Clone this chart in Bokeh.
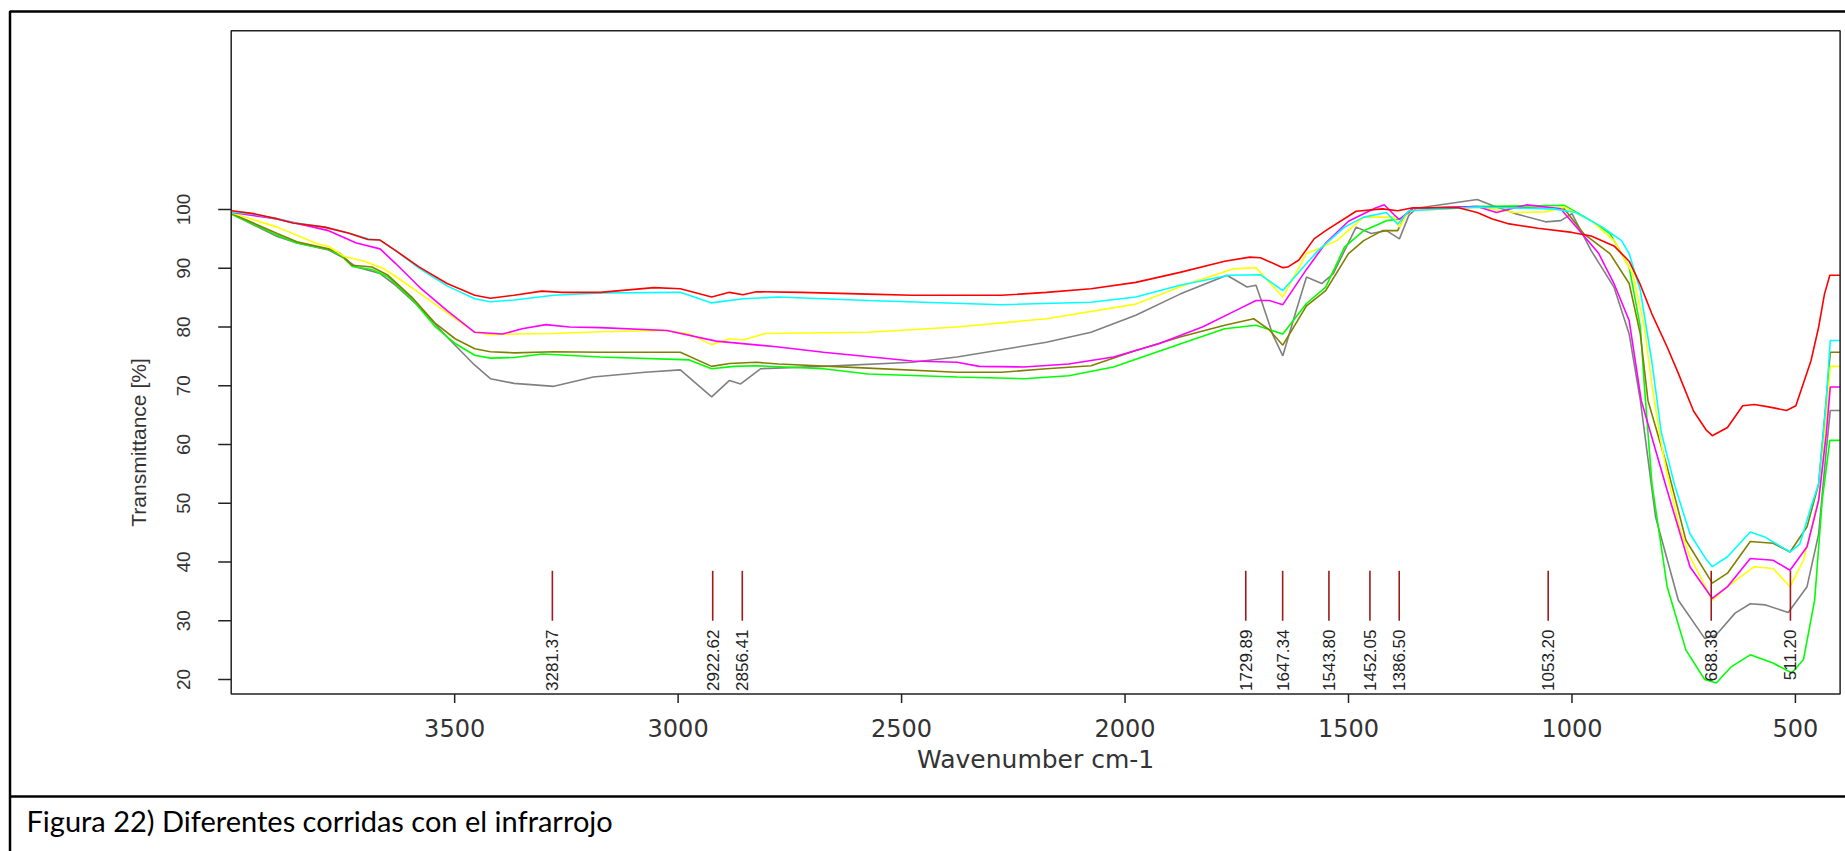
from math import pi
from bokeh.plotting import figure
from bokeh.models import Range1d, ColumnDataSource
from bokeh.core.properties import value
from bokeh.embed import file_html
from bokeh.resources import INLINE

# ---------------- data ----------------
x_ticks = [3500, 3000, 2500, 2000, 1500, 1000, 500]
y_ticks = [20, 30, 40, 50, 60, 70, 80, 90, 100]
x_span = [4000, 400]          # wavenumber range of the plot box
y_span = [17.53, 130.42]      # transmittance range of the plot box

red_wn = [3998, 3950, 3897, 3862, 3791, 3738, 3694, 3667, 3632, 3579, 3517, 3455, 3420, 3367, 3305, 3260, 3174, 3054, 2995, 2925, 2885, 2855, 2825, 2725, 2575, 2476, 2276, 2176, 2076, 1976, 1877, 1777, 1721, 1697, 1647, 1636, 1611, 1577, 1551, 1483, 1424, 1390, 1356, 1254, 1212, 1178, 1144, 1076, 1000, 957, 906, 872, 847, 821, 787, 762, 728, 700, 686, 652, 618, 592, 560, 520, 499, 465, 448, 435, 423, 400]
red_t = [99.8, 99.3, 98.4, 97.7, 97.0, 96.0, 94.9, 94.8, 93.0, 90.2, 87.4, 85.4, 84.9, 85.4, 86.1, 85.9, 85.9, 86.7, 86.5, 85.1, 85.9, 85.5, 86.0, 85.9, 85.6, 85.4, 85.4, 85.9, 86.5, 87.6, 89.3, 91.2, 91.9, 91.8, 90.1, 90.2, 91.4, 95.0, 96.4, 99.7, 100.1, 99.8, 100.3, 100.3, 99.5, 98.4, 97.6, 96.8, 96.1, 95.5, 93.8, 91.2, 87.2, 82.2, 76.6, 72.1, 65.7, 62.5, 61.5, 62.9, 66.6, 66.8, 66.4, 65.8, 66.6, 74.3, 80.0, 85.6, 88.8, 88.8]

cyan_wn = [3998, 3950, 3897, 3862, 3791, 3738, 3694, 3667, 3632, 3579, 3517, 3455, 3420, 3367, 3278, 3174, 2995, 2925, 2855, 2775, 2575, 2276, 2076, 1976, 1877, 1767, 1697, 1647, 1594, 1568, 1509, 1466, 1415, 1390, 1365, 1212, 1042, 991, 932, 889, 872, 847, 821, 800, 770, 736, 700, 686, 652, 601, 567, 512, 490, 465, 448, 431, 422, 400]
cyan_t = [99.6, 99.2, 98.4, 97.8, 97.0, 96.0, 95.0, 94.8, 93.0, 90.0, 87.0, 84.8, 84.3, 84.6, 85.4, 85.8, 85.9, 84.1, 84.8, 85.1, 84.5, 83.8, 84.2, 85.1, 87.1, 88.8, 88.9, 86.2, 90.8, 93.0, 97.0, 98.7, 99.5, 97.5, 99.8, 100.4, 100.1, 99.5, 97.0, 94.7, 92.5, 86.2, 74.0, 62.0, 53.0, 44.8, 40.5, 39.2, 40.9, 45.1, 44.2, 41.7, 43.1, 49.4, 53.3, 67.5, 77.7, 77.7]

yellow_wn = [3998, 3897, 3809, 3782, 3747, 3702, 3658, 3632, 3579, 3517, 3455, 3420, 3367, 3278, 3174, 3025, 2975, 2925, 2885, 2855, 2805, 2575, 2376, 2176, 1976, 1857, 1757, 1707, 1647, 1594, 1568, 1526, 1466, 1398, 1386, 1365, 1212, 1127, 1059, 1017, 957, 906, 864, 838, 821, 800, 787, 760, 736, 686, 652, 592, 550, 512, 482, 448, 431, 422, 400]
yellow_t = [99.4, 97.0, 94.2, 93.7, 92.0, 91.2, 89.9, 88.6, 85.8, 82.4, 79.1, 78.7, 78.8, 78.9, 79.2, 79.4, 78.8, 77.0, 78.0, 77.8, 78.9, 79.1, 80.0, 81.4, 83.9, 87.4, 89.9, 90.1, 85.1, 92.5, 93.3, 94.7, 98.7, 98.7, 97.0, 99.8, 100.4, 99.5, 99.6, 100.4, 98.1, 94.7, 89.1, 80.0, 70.0, 60.0, 55.0, 46.0, 40.9, 33.5, 35.8, 39.2, 38.9, 35.8, 40.3, 50.5, 64.6, 73.3, 73.3]

magenta_wn = [3998, 3897, 3782, 3720, 3667, 3632, 3579, 3517, 3455, 3393, 3349, 3296, 3243, 3174, 3025, 2915, 2775, 2675, 2476, 2376, 2326, 2226, 2126, 2026, 1926, 1827, 1747, 1707, 1677, 1647, 1594, 1551, 1500, 1441, 1420, 1398, 1386, 1356, 1212, 1169, 1101, 1025, 983, 940, 906, 872, 845, 787, 736, 686, 652, 601, 550, 512, 474, 448, 431, 422, 400]
magenta_t = [99.5, 98.4, 96.4, 94.3, 93.3, 90.8, 86.8, 82.8, 79.1, 78.8, 79.7, 80.4, 80.0, 79.9, 79.4, 77.6, 76.6, 75.7, 74.2, 74.0, 73.3, 73.2, 73.7, 74.9, 77.1, 80.0, 83.0, 84.5, 84.5, 83.8, 89.8, 94.3, 98.0, 100.2, 100.8, 99.1, 98.3, 100.2, 100.5, 99.5, 100.8, 100.1, 96.4, 92.5, 87.4, 81.1, 67.5, 52.2, 39.2, 33.8, 35.8, 40.6, 40.3, 38.6, 42.6, 50.5, 61.8, 69.8, 69.8]

olive_wn = [3998, 3897, 3853, 3782, 3756, 3729, 3685, 3649, 3596, 3543, 3499, 3455, 3420, 3367, 3278, 3174, 2995, 2925, 2885, 2825, 2775, 2575, 2376, 2276, 2176, 2076, 1976, 1877, 1777, 1712, 1677, 1647, 1594, 1551, 1500, 1466, 1424, 1390, 1373, 1356, 1212, 1017, 974, 915, 872, 847, 830, 787, 745, 686, 652, 601, 550, 512, 474, 448, 431, 422, 400]
olive_t = [99.3, 95.9, 94.5, 93.3, 92.5, 90.5, 90.2, 88.8, 85.1, 80.6, 78.0, 76.3, 75.8, 75.6, 75.8, 75.7, 75.7, 73.3, 73.8, 74.0, 73.7, 73.0, 72.3, 72.3, 72.9, 73.4, 76.0, 78.3, 80.3, 81.4, 79.5, 76.9, 83.6, 86.2, 92.5, 94.7, 96.4, 96.4, 99.0, 100.2, 100.5, 100.1, 95.9, 92.5, 87.4, 78.8, 67.5, 56.2, 43.7, 36.4, 38.1, 43.5, 43.2, 41.7, 46.0, 53.3, 67.5, 75.7, 75.7]

green_wn = [3998, 3897, 3853, 3782, 3756, 3729, 3685, 3649, 3596, 3543, 3499, 3455, 3420, 3367, 3304, 3174, 2975, 2925, 2875, 2825, 2675, 2575, 2376, 2226, 2126, 2026, 1877, 1777, 1707, 1647, 1594, 1551, 1509, 1466, 1415, 1381, 1356, 1212, 1017, 957, 915, 872, 847, 838, 821, 787, 745, 703, 677, 643, 601, 550, 508, 482, 457, 440, 423, 400]
green_t = [99.2, 95.6, 94.3, 93.2, 92.3, 90.3, 89.8, 88.5, 84.8, 80.0, 77.2, 75.2, 74.7, 74.8, 75.4, 74.9, 74.4, 72.9, 73.3, 73.4, 72.9, 72.0, 71.5, 71.2, 71.7, 73.2, 77.1, 79.7, 80.3, 78.8, 84.0, 86.8, 93.6, 96.4, 98.1, 98.4, 100.2, 100.5, 100.7, 98.1, 95.9, 90.2, 80.0, 70.0, 53.3, 35.8, 25.0, 20.0, 19.4, 22.2, 24.2, 22.8, 21.1, 23.4, 33.5, 50.5, 60.7, 60.7]

gray_wn = [3998, 3897, 3853, 3782, 3747, 3720, 3667, 3632, 3579, 3517, 3455, 3420, 3367, 3278, 3190, 3074, 2995, 2925, 2885, 2860, 2815, 2675, 2476, 2376, 2176, 2076, 1976, 1877, 1772, 1727, 1707, 1695, 1670, 1647, 1619, 1594, 1560, 1534, 1483, 1449, 1415, 1386, 1365, 1348, 1212, 1178, 1127, 1059, 1025, 1000, 957, 906, 872, 847, 813, 762, 703, 677, 635, 601, 567, 516, 474, 448, 431, 422, 400]
gray_t = [99.2, 95.4, 94.3, 93.1, 91.7, 90.2, 89.1, 87.1, 83.4, 78.3, 73.5, 71.2, 70.4, 69.9, 71.5, 72.3, 72.7, 68.1, 70.9, 70.3, 72.9, 73.3, 74.0, 74.9, 77.4, 79.1, 82.0, 85.6, 88.8, 86.8, 87.1, 84.5, 78.8, 75.1, 82.3, 88.5, 87.4, 89.1, 97.0, 95.9, 96.4, 95.0, 99.0, 100.2, 101.7, 100.7, 99.3, 97.9, 98.1, 99.3, 93.0, 86.8, 78.8, 67.5, 47.7, 33.5, 27.0, 27.6, 31.3, 32.9, 32.7, 31.4, 35.8, 44.8, 59.0, 65.8, 65.8]

peak_wn = [3281.37, 2922.62, 2856.41, 1729.89, 1647.34, 1543.80, 1452.05, 1386.50, 1053.20, 688.38, 511.20]
peak_labels = ["3281.37", "2922.62", "2856.41", "1729.89", "1647.34", "1543.80", "1452.05", "1386.50", "1053.20", "688.38", "511.20"]

x_title = "Wavenumber cm-1"
y_title = "Transmittance [%]"
caption = "Figura 22) Diferentes corridas con el infrarrojo"

# ---------------- page geometry (pixels -> data helpers) ----------------
W, H = 1845, 851
SX = 0.44692          # px per wavenumber unit
SY = 5.875            # px per % transmittance
X0 = 4000 + 230.7 / SX          # wavenumber at page x = 0
Y0 = 100 + 209.0 / SY           # transmittance at page y = 0


def xd(px):
    return X0 - px / SX


def yd(py):
    return Y0 - py / SY


p = figure(width=W, height=H, output_backend="svg", toolbar_location=None,
           x_axis_location=None, y_axis_location=None,
           x_range=Range1d(xd(0), xd(W)), y_range=Range1d(yd(H), yd(0)),
           min_border=0, min_border_left=0, min_border_right=0, min_border_top=0, min_border_bottom=0)
p.grid.visible = False
p.outline_line_color = None
p.background_fill_color = "white"
p.border_fill_color = "white"

AX = "#222222"
TXT = "#333333"
WIDE = value("DejaVu Sans")
SANS = value("Liberation Sans")

# outer document box and caption separator
p.multi_line(xs=[[xd(9.5), xd(9.5), xd(W + 20)], [xd(9.5), xd(W + 20)]],
             ys=[[yd(H + 20), yd(11), yd(11)], [yd(796), yd(796)]],
             line_color="black", line_width=2.5)

# data curves
series = [
    (gray_wn, gray_t, "#808080"),
    (green_wn, green_t, "#00FF00"),
    (olive_wn, olive_t, "#808000"),
    (yellow_wn, yellow_t, "#FFFF00"),
    (magenta_wn, magenta_t, "#FF00FF"),
    (cyan_wn, cyan_t, "#00FFFF"),
    (red_wn, red_t, "#FF0000"),
]
for wn, t, c in series:
    p.line(wn, t, line_color=c, line_width=1.6)

# plot box (axes)
p.quad(left=x_span[0], right=x_span[1], bottom=y_span[0], top=y_span[1],
       fill_color=None, line_color=AX, line_width=1.5)

# x ticks and labels
tick_x = ColumnDataSource(dict(x=x_ticks, y0=[y_span[0]] * len(x_ticks),
                               y1=[y_span[0] - 9 / SY] * len(x_ticks),
                               ty=[yd(727)] * len(x_ticks), txt=[str(v) for v in x_ticks]))
p.segment(x0="x", y0="y0", x1="x", y1="y1", source=tick_x, line_color=AX, line_width=1.5)
p.text(x="x", y="ty", text="txt", source=tick_x, text_align="center", text_baseline="middle",
       text_font=WIDE, text_font_size="24px", text_color=TXT)

# y ticks and labels (rotated)
tick_y = ColumnDataSource(dict(y=y_ticks, x0=[x_span[0]] * len(y_ticks),
                               x1=[x_span[0] + 13 / SX] * len(y_ticks),
                               tx=[xd(183)] * len(y_ticks), txt=[str(v) for v in y_ticks]))
p.segment(x0="x0", y0="y", x1="x1", y1="y", source=tick_y, line_color=AX, line_width=1.5)
p.text(x="tx", y="y", text="txt", source=tick_y, angle=pi / 2, text_align="center",
       text_baseline="middle", text_font=SANS, text_font_size="19px", text_color=TXT)

# axis titles
p.text(x=[sum(x_span) / 2], y=[yd(759)], text=[x_title], text_align="center", text_baseline="middle",
       text_font=WIDE, text_font_size="25px", text_color=TXT)
p.text(x=[xd(138)], y=[yd(442)], text=[y_title], angle=pi / 2, text_align="center",
       text_baseline="middle", text_font=SANS, text_font_size="21px", text_color=TXT)

# peak markers
pk = ColumnDataSource(dict(x=peak_wn, y0=[30.0] * len(peak_wn), y1=[38.5] * len(peak_wn),
                           ty=[yd(629)] * len(peak_wn), txt=peak_labels))
p.segment(x0="x", y0="y0", x1="x", y1="y1", source=pk, line_color="#9E1B1B", line_width=1.6)
p.text(x="x", y="ty", text="txt", source=pk, angle=pi / 2, text_align="right",
       text_baseline="middle", text_font=SANS, text_font_size="17px", text_color="#222222")

# caption
p.text(x=[xd(26)], y=[yd(820)], text=[caption], text_align="left", text_baseline="middle",
       text_font=value("Lato"), text_font_size="29px", text_color="black")

open("out.html", "w").write(file_html(p, INLINE))
